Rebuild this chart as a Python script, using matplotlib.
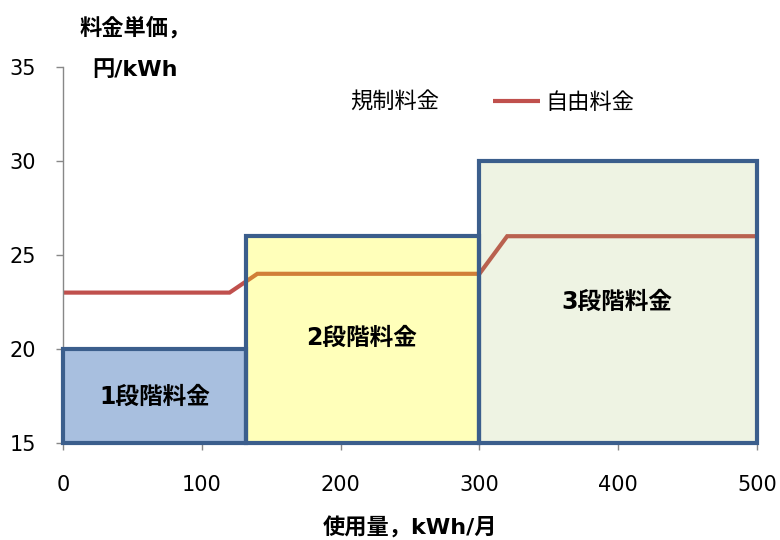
import matplotlib
matplotlib.use("Agg")
import matplotlib.pyplot as plt
from matplotlib.patches import Rectangle
from matplotlib.lines import Line2D

plt.rcParams['font.family'] = ['DejaVu Sans', 'Noto Sans CJK JP']

# regulated tiers: (start kWh, end kWh, unit price)
tier_start = [0, 132, 300]
tier_end = [132, 300, 500]
tier_price = [20, 26, 30]
tier_labels = ['1段階料金', '2段階料金', '3段階料金']
tier_label_x = [66, 215, 399]
tier_label_y = [17.45, 20.6, 22.5]

# deregulated (free) price curve
free_x = [0, 120, 140, 300, 320, 500]
free_y = [23, 23, 24, 24, 26, 26]

x_ticks = [0, 100, 200, 300, 400, 500]
y_ticks = [15, 20, 25, 30, 35]

fill_colors = [(0.45, 0.60, 0.80, 0.62), (1.0, 1.0, 0.0, 0.27), (0.61, 0.73, 0.35, 0.17)]
edge_color = '#3b5e8c'

fig = plt.figure(figsize=(7.8, 5.4), dpi=100)
ax = fig.add_axes([63/780, 1-443/540, (757-63)/780, (443-67)/540])
ax.set_xlim(0, 500)
ax.set_ylim(15, 35)

free_line, = ax.plot(free_x, free_y, color='#c0504d', lw=3, zorder=1,
                     solid_capstyle='butt', solid_joinstyle='miter')

for s, e, p, fc in zip(tier_start, tier_end, tier_price, fill_colors):
    ax.add_patch(Rectangle((s, 15), e - s, p - 15, facecolor=fc,
                           edgecolor='none', zorder=2, clip_on=False))
for s, e, p in zip(tier_start, tier_end, tier_price):
    ax.add_patch(Rectangle((s, 15), e - s, p - 15, facecolor='none',
                           edgecolor=edge_color, lw=3, zorder=3,
                           clip_on=False, joinstyle='miter'))

for lbl, lx, ly in zip(tier_labels, tier_label_x, tier_label_y):
    ax.text(lx, ly, lbl, ha='center', va='center', fontsize=17,
            fontweight='bold', color='black', zorder=4)

for side in ['top', 'right', 'bottom']:
    ax.spines[side].set_visible(False)
ax.spines['left'].set_color('#888888')
ax.spines['left'].set_linewidth(1)

ax.set_xticks(x_ticks)
ax.set_yticks(y_ticks)
ax.tick_params(axis='both', colors='#888888', labelcolor='black',
               labelsize=15, length=5, width=1, direction='out')
ax.tick_params(axis='x', pad=18)
ax.tick_params(axis='y', pad=14.5)

blank = Line2D([], [], color='none')
ax.legend([blank, free_line], ['規制料金', '自由料金'], ncol=2,
          loc='center', bbox_to_anchor=((466 - 63) / 694, 1 - (102 - 67) / 376),
          frameon=False, fontsize=16, handlelength=2.15, handletextpad=0.23,
          columnspacing=2.4)

fig.text(135/780, 1-27/540, '料金単価，', ha='center', va='center',
         fontsize=16, fontweight='bold')
fig.text(135/780, 1-70/540, '円/kWh', ha='center', va='center',
         fontsize=16, fontweight='bold')
fig.text(410/780, 1-527/540, '使用量，kWh/月', ha='center', va='center',
         fontsize=16, fontweight='bold')

fig.savefig('out.png', dpi=100)
